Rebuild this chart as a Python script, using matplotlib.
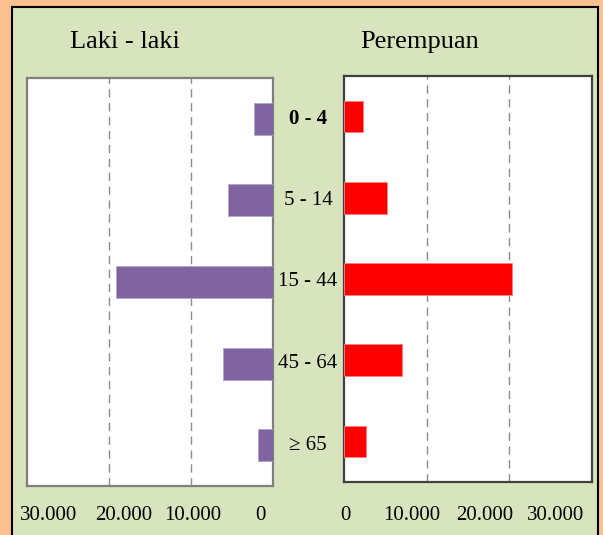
import matplotlib.pyplot as plt
from matplotlib.patches import Rectangle
import matplotlib.transforms as mtransforms

groups = ['0 - 4', '5 - 14', '15 - 44', '45 - 64', '\u2265 65']
laki = [2300, 5450, 19100, 6050, 1800]
perempuan = [2300, 5200, 20300, 7000, 2650]
ticks_left = ['30.000', '20.000', '10.000', '0']
ticks_right = ['0', '10.000', '20.000', '30.000']

W, H = 603, 535
plt.rcParams['font.family'] = ['Liberation Serif', 'DejaVu Serif']

fig = plt.figure(figsize=(W / 100, H / 100), dpi=100)
fig.patch.set_facecolor('#FAC090')
fig.patches.append(Rectangle((12 / W, -0.02), 586 / W, 528 / H + 0.02, transform=fig.transFigure,
                             facecolor='#D7E4BD', edgecolor='black', linewidth=1.5, zorder=-5))


def fx(px):
    return px / W


def fy(py):
    return 1 - py / H


ax1 = fig.add_axes([fx(27), fy(486), 246 / W, 408 / H], zorder=2)
ax2 = fig.add_axes([fx(344), fy(482), 248 / W, 406 / H], zorder=2)

y = list(range(len(groups)))
ax1.barh(y, laki, height=0.39, color='#8064A2', edgecolor='#B4A2CC', linewidth=0.6, zorder=3)
ax2.barh(y, perempuan, height=0.39, color='#FF0000', edgecolor='#FF8080', linewidth=0.6, zorder=3)

ax1.set_xlim(30000, 0)
ax2.set_xlim(0, 30000)
for ax, col in ((ax1, '#7F7F7F'), (ax2, '#404040')):
    ax.set_facecolor('white')
    ax.set_ylim(len(groups) - 0.5, -0.5)
    ax.set_xticks([10000, 20000])
    ax.grid(axis='x', color='#8C8C8C', linestyle=(0, (6, 4)), linewidth=1)
    ax.set_axisbelow(True)
    ax.tick_params(left=False, bottom=False, labelleft=False, labelbottom=False)
    for s in ax.spines.values():
        s.set_color(col)
        s.set_linewidth(1.6)

# category labels between the two panels
trans = mtransforms.blended_transform_factory(fig.transFigure, ax1.transData)
for i, g in enumerate(groups):
    fig.text(fx(308), i, g, transform=trans, ha='center', va='center', fontsize=15,
             fontweight='bold' if i == 0 else 'normal')

fig.text(fx(125), fy(42), 'Laki - laki', ha='center', va='center', fontsize=19)
fig.text(fx(420), fy(42), 'Perempuan', ha='center', va='center', fontsize=19)

for lab, px in zip(ticks_left, [49, 124, 193, 260]):
    fig.text(fx(px), fy(515), lab, ha='center', va='center', fontsize=15)
for lab, px in zip(ticks_right, [345, 412, 485, 556]):
    fig.text(fx(px), fy(515), lab, ha='center', va='center', fontsize=15)

fig.savefig('out.png', dpi=100, facecolor=fig.get_facecolor())
